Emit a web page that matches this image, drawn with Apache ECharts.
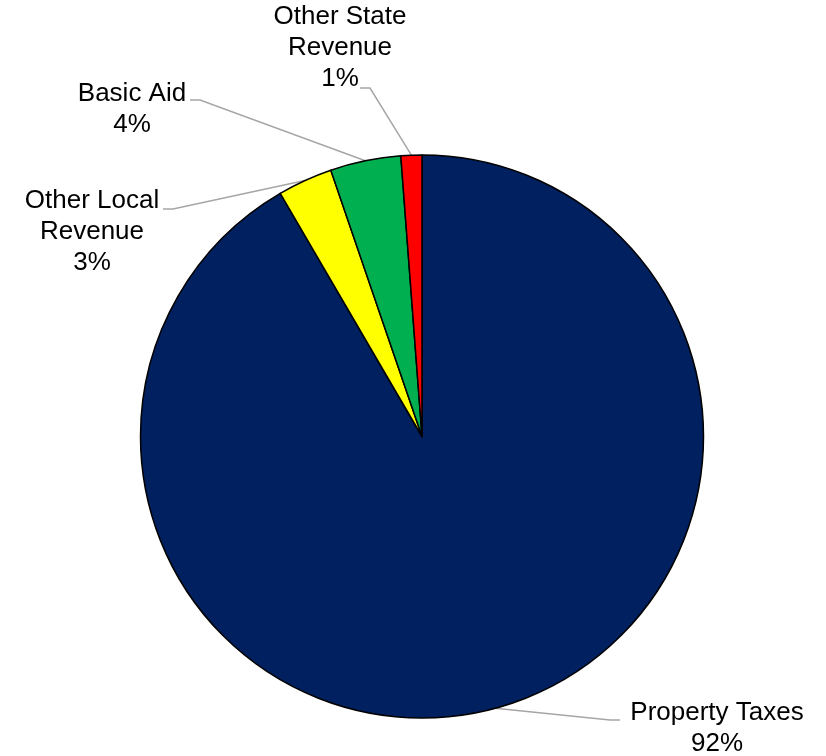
<!DOCTYPE html>
<html>
<head>
<meta charset="utf-8">
<script src="https://cdn.jsdelivr.net/npm/echarts@6/dist/echarts.min.js"></script>
<style>html,body{margin:0;padding:0;background:#fff;}#chart{width:826px;height:756px;}</style>
</head>
<body>
<div id="chart"></div>
<script>
// Data
var categories = ['Property Taxes', 'Other Local Revenue', 'Basic Aid', 'Other State Revenue'];
var displayNames = ['Property Taxes', 'Other Local\nRevenue', 'Basic Aid', 'Other State\nRevenue'];
var values = [91.6, 3.15, 4.05, 1.2];
var colors = ['#002060', '#FFFF00', '#00B050', '#FF0000'];

// Label placement (layout only)
var labelPos = [
  {x: 717, y: 728, bend: [610, 720], end: [620, 720]},
  {x: 92,  y: 232, bend: [173, 209], end: [163, 209]},
  {x: 132, y: 109, bend: [200, 100], end: [190, 100]},
  {x: 340, y: 48,  bend: [370, 88],  end: [360, 88]}
];

var chart = echarts.init(document.getElementById('chart'), null, {renderer: 'canvas'});
var data = categories.map(function (c, i) {
  return {name: c, value: values[i], itemStyle: {color: colors[i]}};
});
chart.setOption({
  animation: false,
  series: [{
    type: 'pie',
    center: [422, 436.5],
    radius: 281.5,
    startAngle: 90,
    clockwise: true,
    avoidLabelOverlap: false,
    data: data,
    itemStyle: {borderColor: '#000', borderWidth: 1.5},
    label: {
      show: true,
      position: 'outside',
      fontFamily: 'Liberation Sans, Arial, sans-serif',
      fontSize: 26,
      lineHeight: 31,
      color: '#000',
      align: 'center',
      formatter: function (p) {
        return displayNames[p.dataIndex] + '\n' + Math.round(p.percent) + '%';
      }
    },
    labelLine: {
      show: true,
      length: 20,
      length2: 10,
      lineStyle: {color: '#A6A6A6', width: 1.5}
    },
    labelLayout: function (params) {
      var lp = labelPos[params.dataIndex];
      var anchor = params.labelLinePoints ? params.labelLinePoints[0] : lp.bend;
      return {
        x: lp.x,
        y: lp.y,
        align: 'center',
        verticalAlign: 'middle',
        labelLinePoints: [anchor, lp.bend, lp.end]
      };
    }
  }]
});
</script>
</body>
</html>
